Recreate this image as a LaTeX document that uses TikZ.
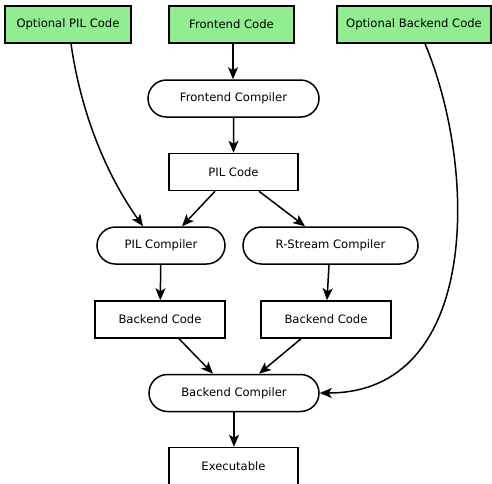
\documentclass[tikz,border=0pt]{standalone}
\usepackage{fontspec}
\setmainfont{DejaVu Sans}
\usetikzlibrary{arrows.meta, shapes.misc}
\definecolor{CodeGreen}{HTML}{90EE90}

\begin{document}
\begin{tikzpicture}[
    x=1pt, y=-1pt,
    codebox/.style={draw, line width=1.5pt, rectangle, minimum height=37pt, inner sep=0pt, font=\fontsize{11.6}{13}\selectfont},
    input/.style={codebox, fill=CodeGreen},
    compiler/.style={draw, line width=1.5pt, rounded rectangle, minimum height=37pt, inner sep=0pt, font=\fontsize{11.6}{13}\selectfont},
    flow/.style={-{Stealth[length=12pt, width=10pt, inset=3pt]}, line width=1.5pt}
]
  \useasboundingbox (0,0) rectangle (492,483);
  % Inputs
  \node[input, minimum width=126pt] (pilin) at (68,24.5) {Optional PIL Code};
  \node[input, minimum width=125pt] (front) at (231.5,24.5) {Frontend Code};
  \node[input, minimum width=154pt] (backin) at (414,24.5) {Optional Backend Code};
  % Compilers and code
  \node[compiler, minimum width=171pt] (fcomp) at (233.5,98.5) {Frontend Compiler};
  \node[codebox, minimum width=129pt] (pil) at (233.5,172) {PIL Code};
  \node[compiler, minimum width=128pt] (pcomp) at (161,245.5) {PIL Compiler};
  \node[compiler, minimum width=175pt] (rcomp) at (330.5,245.5) {R-Stream Compiler};
  \node[codebox, minimum width=130pt] (back1) at (160,319.5) {Backend Code};
  \node[codebox, minimum width=130pt] (back2) at (326,319.5) {Backend Code};
  \node[compiler, minimum width=170pt] (bcomp) at (234,393) {Backend Compiler};
  \node[codebox, minimum width=129pt] (exe) at (233.5,466) {Executable};
  % Flow
  \draw[flow] (front.south -| 233,0) -- (fcomp.north -| 233,0);
  \draw[flow] (fcomp) -- (pil);
  \draw[flow] (pil.south -| 215,0) -- (pcomp.north -| 182,0);
  \draw[flow] (pil.south -| 259,0) -- (rcomp.north -| 305,0);
  \draw[flow] (pilin.south -| 71,0) .. controls (82,120) and (110,180) .. (pcomp.north -| 143,0);
  \draw[flow] (pcomp) -- (back1);
  \draw[flow] (rcomp.south -| 329,0) -- (back2.north -| 327,0);
  \draw[flow] (back1.south -| 179,0) -- (bcomp.north -| 213,0);
  \draw[flow] (back2.south -| 301,0) -- (bcomp.north -| 259,0);
  \draw[flow] (backin.south -| 425,0) .. controls (478,170) and (480,393) .. (bcomp.east);
  \draw[flow] (bcomp.south -| 234,0) -- (exe.north -| 234,0);
\end{tikzpicture}
\end{document}
